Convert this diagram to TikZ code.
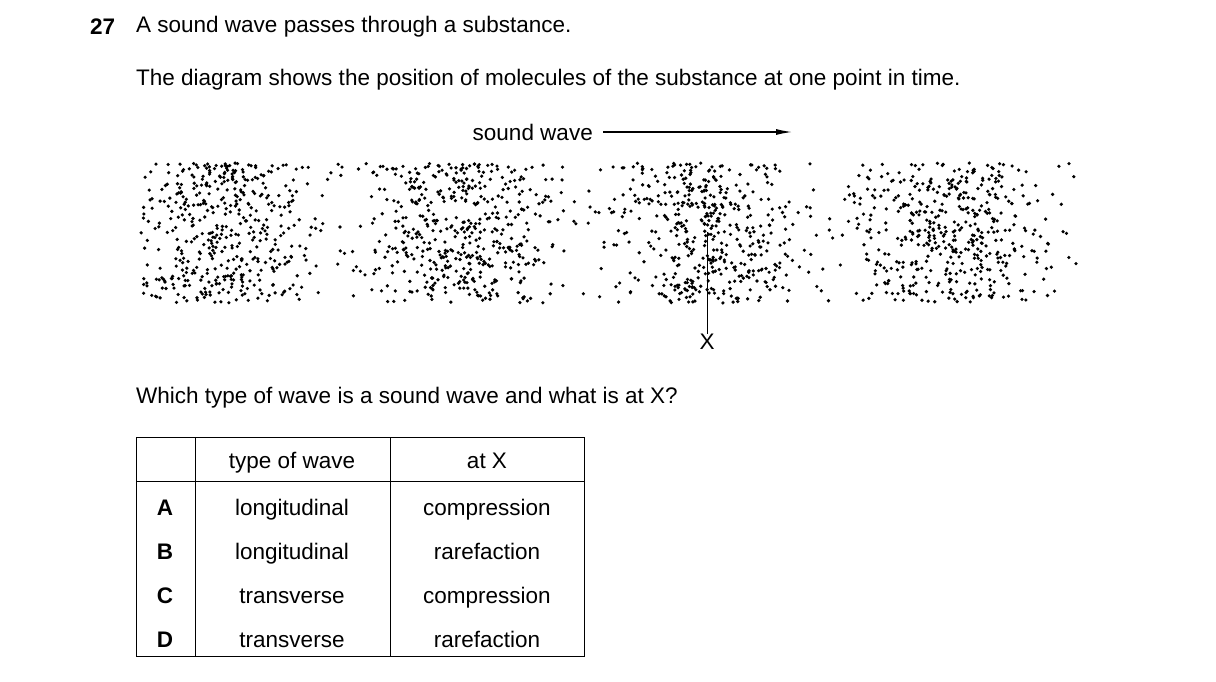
\documentclass[tikz,border=0pt]{standalone}
\usepackage{fontspec}
\setmainfont{Liberation Sans}
\usetikzlibrary{arrows.meta}
\tikzset{
  txt/.style={font=\fontsize{22.5}{26}\selectfont, inner sep=0pt},
  cell/.style={txt, anchor=base, yshift=-8pt},
  mol/.style={fill=black, draw=none}
}
\begin{document}
\begin{tikzpicture}[x=1pt,y=-1pt]
  \useasboundingbox (0,0) rectangle (1216,681);
  \node[txt, anchor=west, font=\fontsize{22.5}{26}\selectfont\bfseries] (qnum) at (90,27) {27};
  \node[txt, anchor=west] (q1) at (136,27) {A sound wave passes through a substance.};
  \node[txt, anchor=west] (q2) at (136,80) {The diagram shows the position of molecules of the substance at one point in time.};
  \node[txt, anchor=east] (sw) at (593,132) {sound wave};
  \coordinate (swend) at (792,132);
  \draw[line width=1.2pt, -{Latex[length=16pt,width=6pt]}] (sw.east) ++(10,0) -- (swend);
  % molecules
  \pgfmathsetseed{27}
  \foreach \i in {1,...,3600}{
    \pgfmathsetmacro\px{140+938*rnd}
    \pgfmathsetmacro\py{163+140*rnd}
    \pgfmathsetmacro\dens{0.1+0.9*(0.001+(1+cos((\px-215)/245*360))/2)^1.2}
    \pgfmathtruncatemacro\acc{rnd<\dens}
    \ifnum\acc>0 \fill[mol] (\px,\py) circle (1.8); \fi
  }
  \node[txt] (xlab) at (707,342) {X};
  \coordinate (xtop) at (707,232);
  \draw[line width=0.8pt] (xtop) -- (xlab.north);
  \node[txt, anchor=west] (q3) at (136,398) {Which type of wave is a sound wave and what is at X?};
  % table
  \draw[line width=0.8pt] (136,437) rectangle (584,656);
  \draw[line width=0.8pt] (136,481) -- (584,481);
  \draw[line width=0.8pt] (195,437) -- (195,656);
  \draw[line width=0.8pt] (390,437) -- (390,656);
  \node[cell] (h1) at (292,460) {type of wave};
  \node[cell] (h2) at (487,460) {at X};
  \foreach \lt/\ty/\ax/\yy in {A/longitudinal/compression/507, B/longitudinal/rarefaction/551,
      C/transverse/compression/595, D/transverse/rarefaction/639}{
    \node[cell, font=\fontsize{22.5}{26}\selectfont\bfseries] (row\lt) at (165,\yy) {\lt};
    \node[cell] (type\lt) at (292,\yy) {\ty};
    \node[cell] (atx\lt) at (487,\yy) {\ax};
  }
\end{tikzpicture}
\end{document}
